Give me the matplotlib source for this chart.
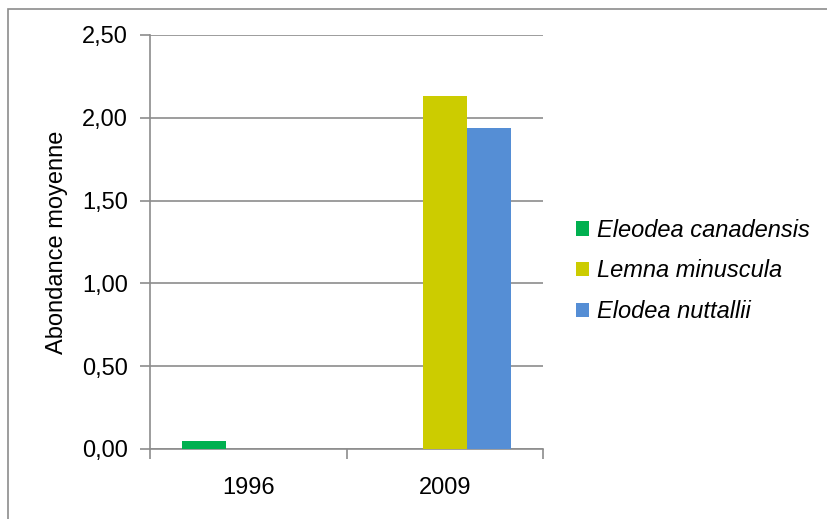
import numpy as np
import matplotlib.pyplot as plt
from matplotlib.patches import Rectangle

plt.rcParams['font.family'] = ['Liberation Sans', 'DejaVu Sans']

# données
annees = ['1996', '2009']
especes = ['Eleodea canadensis', 'Lemna minuscula', 'Elodea nuttallii']
valeurs = {
    'Eleodea canadensis': [0.05, 0.0],
    'Lemna minuscula': [0.0, 2.13],
    'Elodea nuttallii': [0.0, 1.94],
}
couleurs = ['#00B050', '#CCCC00', '#558ED5']
yticks = [0.0, 0.5, 1.0, 1.5, 2.0, 2.5]
ytick_labels = ['0,00', '0,50', '1,00', '1,50', '2,00', '2,50']

fig = plt.figure(figsize=(8.27, 5.19), dpi=100)
ax = fig.add_axes([150/827, 70/519, 393/827, 414/519])

# cadre du graphique (coupé à droite et en bas)
fig.patches.append(Rectangle((8/827, -0.1), 1.2, (510/519) + 0.1, transform=fig.transFigure,
                             fill=False, edgecolor='#8c8c8c', linewidth=1.2))

x = np.arange(len(annees))
w = 0.224
for i, (esp, c) in enumerate(zip(especes, couleurs)):
    ax.bar(x + (i - 1) * w, valeurs[esp], width=w, color=c, label=esp, zorder=3)

ax.set_xlim(-0.5, 1.5)
ax.set_ylim(0, 2.5)
ax.set_yticks(yticks)
ax.set_yticklabels(ytick_labels)
ax.set_xticks(x)
ax.set_xticklabels(annees)
ax.set_xticks([-0.5, 0.5, 1.5], minor=True)
ax.tick_params(axis='x', which='major', length=0, pad=20, labelsize=17)
ax.tick_params(axis='x', which='minor', length=7, width=1.2, color='#8c8c8c', direction='out')
ax.tick_params(axis='y', length=7, width=1.2, color='#8c8c8c', labelsize=17, pad=9)
ax.grid(axis='y', color='#8c8c8c', linewidth=1.2, zorder=0)

for s in ['top', 'right']:
    ax.spines[s].set_visible(False)
for s in ['left', 'bottom']:
    ax.spines[s].set_color('#8c8c8c')
    ax.spines[s].set_linewidth(1.2)

ax.set_ylabel('Abondance moyenne', fontsize=17, labelpad=10)

leg = ax.legend(loc='center left', bbox_to_anchor=(1.06, 0.43), frameon=False,
                prop={'style': 'italic', 'size': 17}, handlelength=0.55, handleheight=0.55,
                handletextpad=0.35, labelspacing=0.75, borderaxespad=0)

fig.savefig('out.png', dpi=100)
